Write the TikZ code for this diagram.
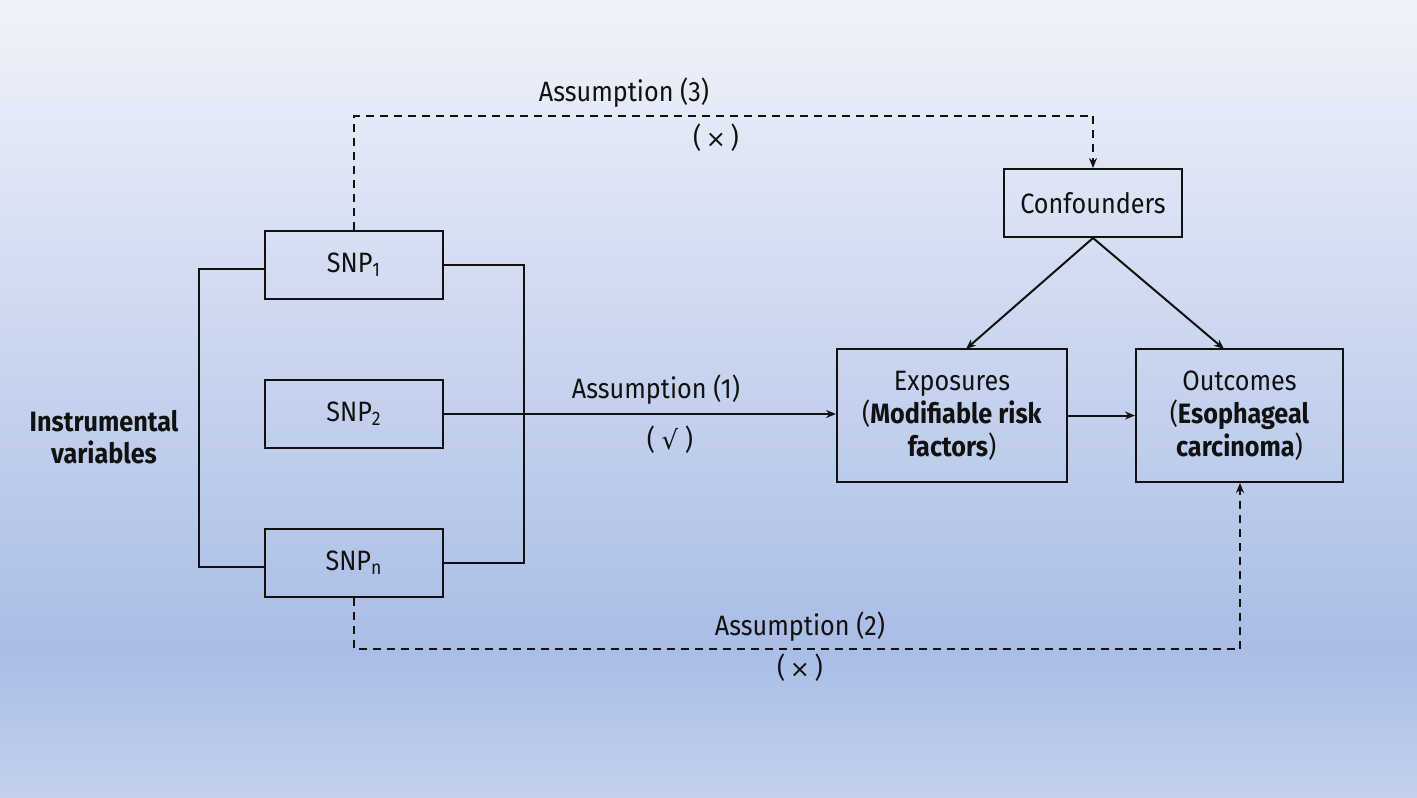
\documentclass[tikz,border=0pt]{standalone}
\usepackage{fontspec}
\setmainfont{Fira Sans}[FakeStretch=0.9]
\newfontfamily\symfont{DejaVu Sans}
\usetikzlibrary{arrows.meta}
\definecolor{bgtop}{HTML}{F0F3FA}
\definecolor{bgmid}{HTML}{A9BDE6}
\definecolor{bgbot}{HTML}{C3D1EE}
\definecolor{ink}{HTML}{111111}
\newcommand{\crossmark}{{\symfont\fontsize{12pt}{14pt}\selectfont ×}}
\begin{document}
\begin{tikzpicture}[x=0.5pt,y=-0.5pt,
  font=\fontsize{14pt}{16pt}\selectfont,
  box/.style={draw=ink,line width=1pt,rectangle,inner sep=0pt,align=center,text=ink},
  snp/.style={box,minimum width=89pt,minimum height=34pt},
  bigbox/.style={box,minimum height=66.5pt,font=\fontsize{14pt}{16.5pt}\selectfont},
  conn/.style={draw=ink,line width=1pt},
  arr/.style={conn,-{Stealth[length=5pt,width=4pt]}},
  dashline/.style={conn,dash pattern=on 4pt off 3pt},
  lbl/.style={text=ink,inner sep=0pt}]
\useasboundingbox (0,0) rectangle (1417,797);
\shade[top color=bgtop,bottom color=bgmid] (0,0) rectangle (1417,650);
\shade[top color=bgmid,bottom color=bgbot] (0,650) rectangle (1417,797);

% SNP nodes
\node[snp] (snp1) at (354,265) {SNP\textsubscript{1}};
\node[snp] (snp2) at (354,414) {SNP\textsubscript{2}};
\node[snp] (snpn) at (354,563) {SNP\textsubscript{n}};

% right-side nodes
\node[box,minimum width=89pt,minimum height=34pt] (conf) at (1093,203) {Confounders};
\node[bigbox,minimum width=115pt] (expo) at (952,415.5) {Exposures\\(\textbf{Modifiable risk}\\\textbf{factors})};
\node[bigbox,minimum width=103.5pt] (outc) at (1239.5,415.5) {Outcomes\\(\textbf{Esophageal}\\\textbf{carcinoma})};

% label
\node[lbl,align=center,font=\fontsize{14pt}{16pt}\selectfont\bfseries] (iv) at (104,437) {Instrumental\\variables};

% bracket coordinates
\coordinate (l1) at (199,269);
\coordinate (ln) at (199,567);
\coordinate (r1) at (524,265);
\coordinate (rn) at (524,563);
\draw[conn] (snp1.west |- l1) -- (l1) -- (ln) -- (snpn.west |- ln);
\draw[conn] (snp1.east |- r1) -- (r1) -- (rn) -- (snpn.east |- rn);

% assumption 1
\draw[arr] (snp2.east) -- (expo.west |- snp2.east);
\node[lbl] (a1) at (656,390) {Assumption (1)};
\node[lbl] (c1) at (670,440) {( {\symfont\fontsize{13pt}{15pt}\selectfont √} )};

% confounders arrows
\draw[arr] (conf.south) -- (966,349);
\draw[arr] (conf.south) -- (1224,349);
\draw[arr] (expo.east) -- (outc.west);

% assumption 3
\coordinate (t1) at (354,116);
\coordinate (t2) at (1093,116);
\draw[dashline] (snp1.north) -- (t1) -- (t2);
\draw[dashline,-{Stealth[length=5pt,width=4pt]}] (t2) -- (conf.north);
\node[lbl] (a3) at (624,93) {Assumption (3)};
\node[lbl] (c3) at (716,138) {(\,\crossmark\,)};

% assumption 2
\coordinate (b1) at (354,649);
\coordinate (b2) at (1240,649);
\draw[dashline] (snpn.south) -- (b1) -- (b2);
\draw[dashline,-{Stealth[length=5pt,width=4pt]}] (b2) -- (outc.south -| b2);
\node[lbl] (a2) at (800,627) {Assumption (2)};
\node[lbl] (c2) at (800,668) {(\,\crossmark\,)};
\end{tikzpicture}
\end{document}
